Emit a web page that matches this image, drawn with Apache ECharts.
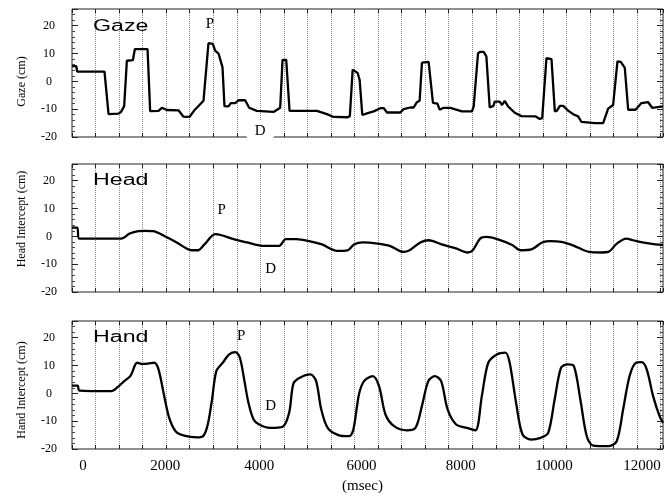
<!DOCTYPE html>
<html><head><meta charset="utf-8">
<script src="https://cdn.jsdelivr.net/npm/echarts@6/dist/echarts.min.js"></script>
<style>html,body{margin:0;padding:0;background:#fff}#c{width:671px;height:497px}</style>
</head><body><div id="c"></div>
<script>
// ---- data (time in msec, value in cm) ----
const xTickLabels = [0, 2000, 4000, 6000, 8000, 10000, 12000];
const yTickLabels = [-20, -10, 0, 10, 20];
const panelTitles = ['Gaze', 'Head', 'Hand'];
const yNames = ['Gaze (cm)', 'Head Intercept (cm)', 'Hand Intercept (cm)'];

const gazeTime = [0,90,110,690,776,988,1040,1108,1165,1293,1335,1604,1660,1837,1908,2015,2261,2367,2494,2594,2707,2792,2898,2990,3040,3111,3196,3238,3323,3373,3465,3536,3677,3762,3925,4279,4421,4471,4549,4620,4988,5200,5413,5555,5853,5900,5960,6066,6108,6165,6264,6406,6561,6618,6689,6972,7043,7184,7255,7325,7382,7431,7573,7665,7760,7807,7892,8034,8069,8281,8494,8530,8622,8671,8742,8799,8870,8950,8976,9082,9132,9189,9260,9402,9544,9848,9933,9985,10075,10182,10253,10300,10359,10430,10536,10642,10748,10819,11102,11279,11385,11491,11583,11654,11739,11810,11966,12093,12235,12320,12550];
const gazeCm   = [5.5,5.5,3.5,3.5,-11.8,-11.6,-11,-8.9,7.4,7.6,11.6,11.6,-10.7,-10.6,-9.5,-10.3,-10.4,-12.7,-12.8,-10.5,-8.5,-7,13.7,13.5,11,10,5,-8.9,-9,-7.8,-7.8,-6.8,-6.8,-9.5,-10.6,-11,-9.5,7.7,7.7,-10.6,-10.6,-10.6,-11.8,-12.8,-12.9,-12.5,4.2,3,0.5,-12.1,-11.5,-10.8,-9.6,-9.6,-11.2,-11.2,-10,-9.4,-9.4,-7.5,-7,6.7,7,-7.7,-8,-10.2,-9.5,-9.5,-9,-10.8,-10.8,-9,10.1,10.6,10.6,9,-9.4,-8.8,-7.3,-7.3,-8.5,-7,-9,-11.3,-12.5,-12.6,-13.5,-13.2,8.3,8,-10.8,-10.5,-8.8,-8.8,-10.5,-11.8,-12.6,-14.6,-15,-15,-9.8,-8.5,7.2,7,4.8,-10.2,-10.2,-7.8,-7.5,-9.5,-9];

const headTime = [0,110,154,1044,1225,1407,1543,1724,1951,2224,2405,2541,2677,2813,3040,3176,3449,3721,4038,4401,4538,4764,5037,5309,5627,5853,5990,6171,6489,6761,7033,7169,7396,7577,7850,8168,8395,8512,8667,8803,9030,9347,9529,9756,9983,10165,10390,10663,10980,11253,11389,11570,11770,11915,12115,12387,12550];
const headCm   = [3.1,3.1,-0.8,-0.8,1,1.9,2,1.9,0.2,-2.2,-4.1,-5,-5,-2.9,0.8,0.4,-1.1,-2.2,-3.4,-3.4,-1,-1,-1.7,-2.9,-5.2,-5,-2.9,-2.2,-2.6,-3.5,-5.6,-5,-2.2,-1.4,-2.9,-4.4,-5.8,-5,-0.8,-0.2,-1,-3.1,-5,-4.7,-2.2,-1.7,-2,-3.4,-5.6,-5.8,-5.6,-2.6,-0.8,-1.4,-2.2,-2.9,-3.1];

const handTime = [0,120,155,837,973,1110,1246,1382,1473,1610,1746,1837,1973,2064,2200,2383,2656,2792,2883,2974,3065,3201,3337,3474,3565,3656,3747,3856,3974,4201,4474,4611,4702,4838,5065,5184,5293,5429,5656,5884,5975,6093,6202,6384,6520,6657,6839,7112,7293,7430,7566,7703,7839,7976,8157,8385,8567,8703,8839,9021,9203,9294,9430,9567,9749,9949,10112,10249,10385,10522,10658,10795,10931,11067,11385,11567,11703,11840,11976,12095,12204,12340,12477,12550];
const handCm   = [2.8,2.8,1,0.8,2.3,4.4,6.4,11,10.6,10.7,11,8.6,-2.2,-8.8,-13.6,-15.2,-15.8,-15.2,-11.2,-2.2,8,11,14,14.8,12.8,5,-3.4,-9.4,-11.2,-12.4,-12,-7,3.5,5.6,6.8,4.4,-5.8,-12.4,-15,-15.4,-13,-0.4,4.4,6.2,2.6,-7.6,-11.8,-13.3,-12.4,-4.6,4.4,6.2,4.4,-5.8,-11.2,-12.4,-13.3,-1,11,14,14.6,11,-3.4,-14.8,-16.6,-16,-14.2,-2.2,9.2,10.4,9.8,-2.2,-15.4,-18.8,-19,-17.2,-5.8,6.2,11,11.2,8.6,-1,-8.2,-10.6];

// annotation letters: [panel, text, time, cm]
const annoPanel = [0, 0, 1, 1, 2, 2];
const annoText  = ['P', 'D', 'P', 'D', 'P', 'D'];
const annoTime  = [2930, 3996, 3176, 4220, 3592, 4220];
const annoCm    = [20.6, -17.8, 9.4, -11.6, 20.6, -4.4];

// ---- presentation ----
const serif = '"Liberation Serif", "Times New Roman", serif';
const sans = '"Liberation Sans", Arial, sans-serif';
const labelNudge = {0: 11, 2000: -1, 4000: -1, 6000: 7, 8000: 12, 10000: 11, 12000: 5};
const gridTops = [9, 164, 321];
const namePads = [[0, 17, 0, 0], [0, 0, 0, 18], [0, 10, 0, 0]];
const titleY = [27, 181, 338];
const smoothness = [false, 0.3, 0.3];

const rich = {};
xTickLabels.forEach(v => {
  const n = labelNudge[v] || 0;
  rich['l' + v] = {fontFamily: serif, fontSize: 15, color: '#000',
    padding: [0, n < 0 ? -2 * n : 0, 0, n > 0 ? 2 * n : 0]};
});

const zip = (t, v) => t.map((x, i) => [x, v[i]]);
const seriesData = [zip(gazeTime, gazeCm), zip(headTime, headCm), zip(handTime, handCm)];

const grid = [], xAxis = [], yAxis = [], series = [], graphic = [];
for (let i = 0; i < 3; i++) {
  grid.push({left: 72, right: 8, top: gridTops[i], height: 128, show: true,
    borderColor: '#222', borderWidth: 1, backgroundColor: 'transparent'});
  const last = i === 2;
  xAxis.push({type: 'value', gridIndex: i, position: 'bottom', min: 0, max: 12550, interval: 500,
    axisLine: {show: false, onZero: false},
    axisTick: {show: true, inside: true, length: 4, lineStyle: {color: '#222'}},
    splitLine: {show: true, lineStyle: {type: 'dotted', color: '#8a8a8a', width: 1}},
    axisLabel: {show: last, margin: 10, fontFamily: serif, fontSize: 15, color: '#000', rich: rich,
      formatter: v => xTickLabels.includes(v) ? '{l' + v + '|' + v + '}' : ''},
    name: last ? '(msec)' : '', nameLocation: 'middle', nameGap: 30,
    nameTextStyle: {fontFamily: serif, fontSize: 15, color: '#000', padding: [0, 10, 0, 0]}
  });
  xAxis.push({type: 'value', gridIndex: i, position: 'top', min: 0, max: 12550, interval: 500,
    axisLine: {show: false, onZero: false}, splitLine: {show: false}, axisLabel: {show: false},
    axisTick: {show: true, inside: true, length: 4, lineStyle: {color: '#222'}}});
  yAxis.push({type: 'value', gridIndex: i, position: 'left', min: -20, max: 26, interval: 10,
    axisLine: {show: false, onZero: false}, splitLine: {show: false},
    axisTick: {show: true, inside: true, length: 6, lineStyle: {color: '#222'}},
    minorTick: {show: true, splitNumber: 5, length: 3, lineStyle: {color: '#444'}},
    axisLabel: {margin: 23, align: 'center', fontFamily: serif, fontSize: 12, color: '#000',
      formatter: v => yTickLabels.includes(v) ? String(v) : ''},
    name: yNames[i], nameLocation: 'middle', nameGap: 44,
    nameTextStyle: {fontFamily: serif, fontSize: 12, color: '#000', padding: namePads[i]}
  });
  yAxis.push({type: 'value', gridIndex: i, position: 'right', min: -20, max: 26, interval: 10,
    axisLine: {show: false, onZero: false}, splitLine: {show: false}, axisLabel: {show: false},
    axisTick: {show: true, inside: true, length: 6, lineStyle: {color: '#222'}},
    minorTick: {show: true, splitNumber: 5, length: 3, lineStyle: {color: '#444'}}});

  const marks = [];
  annoPanel.forEach((p, k) => {
    if (p !== i) return;
    const isGap = i === 0 && annoText[k] === 'D';
    marks.push({coord: [annoTime[k], annoCm[k]], value: annoText[k],
      label: isGap ? {backgroundColor: '#fff', padding: [3, 8]} : {}});
  });
  series.push({type: 'line', xAxisIndex: 2 * i, yAxisIndex: 2 * i, data: seriesData[i],
    showSymbol: false, symbol: 'none', smooth: smoothness[i],
    lineStyle: {color: '#000', width: 2.3}, z: 3,
    markPoint: {symbol: 'circle', symbolSize: 1, itemStyle: {color: 'rgba(0,0,0,0)'},
      label: {show: true, position: 'inside', formatter: p => p.value,
        fontFamily: serif, fontSize: 15, color: '#000'},
      data: marks}
  });
  graphic.push({type: 'text', x: 93, y: titleY[i], scaleX: 1.45, z: 10,
    style: {text: panelTitles[i], fontFamily: sans, fontSize: 16, fill: '#000',
      align: 'left', verticalAlign: 'middle'}});
}

const chart = echarts.init(document.getElementById('c'));
chart.setOption({animation: false, backgroundColor: '#fff', grid, xAxis, yAxis, series, graphic});
</script>
</body></html>
